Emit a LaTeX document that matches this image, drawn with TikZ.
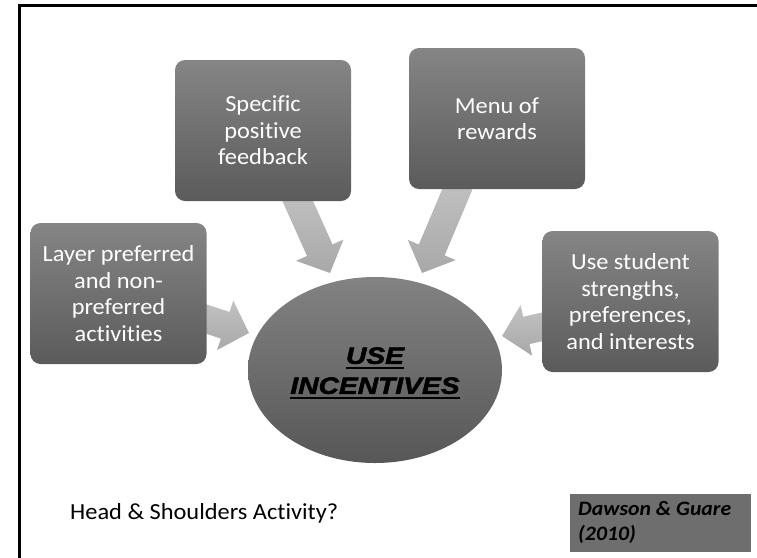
\documentclass[tikz,border=0pt]{standalone}
\usepackage{fontspec}
\setmainfont{Carlito}[FakeStretch=1.06, Ligatures=NoCommon]
\newfontfamily\titlefont{Liberation Sans}[FakeStretch=1.2, FakeBold=2.2]
\usetikzlibrary{calc,shapes.geometric}
\definecolor{boxtop}{HTML}{858585}
\definecolor{boxbot}{HTML}{5B5B5B}
\definecolor{circtop}{HTML}{828282}
\definecolor{circbot}{HTML}{575757}
\definecolor{arrtop}{HTML}{C2C2C2}
\definecolor{arrbot}{HTML}{A8A8A8}
\definecolor{refgray}{HTML}{6E6E6E}
\tikzset{
  stepbox/.style={rounded corners=10pt, minimum width=176pt, minimum height=141pt,
    top color=boxtop, bottom color=boxbot, text=white, align=center,
    font=\fontsize{23}{26.5}\selectfont, inner sep=0pt},
  hub/.style={ellipse, minimum width=254pt, minimum height=186pt,
    top color=circtop, bottom color=circbot, inner sep=0pt},
  hubtext/.style={align=center, inner sep=0pt,
    font=\titlefont\bfseries\itshape\fontsize{23.5}{30}\selectfont},
  arrowsty/.style={top color=arrtop, bottom color=arrbot},
  plain/.style={font=\fontsize{23}{27}\selectfont, inner sep=0pt}
}
\newcommand\ulword[1]{\setbox0\hbox{#1}\rlap{\vrule height -2.8pt depth 4.8pt width \wd0}\box0}
\newcommand\blockarr[2]{%
  \coordinate (ba-h) at ($(#2)!25pt!(#1)$);
  \path[arrowsty] ($(#1)!14pt!90:(#2)$) -- ($(ba-h)!14pt!90:(#2)$) --
    ($(ba-h)!26pt!90:(#2)$) -- (#2) -- ($(ba-h)!26pt!-90:(#2)$) --
    ($(ba-h)!14pt!-90:(#2)$) -- ($(#1)!14pt!-90:(#2)$) -- cycle;
}
\begin{document}
\begin{tikzpicture}[x=1pt,y=-1pt]
\useasboundingbox (0,0) rectangle (757,557);
\begin{scope}
\clip (0,0) rectangle (757,557);
\draw[line width=3pt] (19.5,570) -- (19.5,5.5) -- (770,5.5);
\end{scope}

% arrows (drawn first, below the boxes)
\coordinate (a1s) at (295,195); \coordinate (a1t) at (330,273);
\coordinate (a2s) at (460,183); \coordinate (a2t) at (422,273);
\coordinate (a3s) at (200,317); \coordinate (a3t) at (249,333);
\coordinate (a4s) at (550,325); \coordinate (a4t) at (502,336);
\blockarr{a1s}{a1t}
\blockarr{a2s}{a2t}
\blockarr{a3s}{a3t}
\blockarr{a4s}{a4t}

\node[stepbox] (spec) at (263,130.5) {Specific\\positive\\feedback};
\node[stepbox] (menu) at (497,118.5) {Menu of\\rewards};
\node[stepbox] (layer) at (118.5,293.5) {Layer preferred\\and non-\\preferred\\activities};
\node[stepbox] (stud) at (630.5,301.5) {Use student\\strengths,\\preferences,\\and interests};

\node[hub] (hubnode) at (375,370) {};
\node[hubtext] (hublabel) at (375,373) {\ulword{USE}\\\ulword{INCENTIVES}};

\node[plain, anchor=base west] (head) at (70,519) {Head \& Shoulders Activity?};

\fill[refgray] (570,494) rectangle (751,552);
\node[anchor=north west, inner sep=0pt, align=left,
  font=\bfseries\itshape\fontsize{20.5}{25}\selectfont] (cite) at (578,501)
  {Dawson \& Guare\\(2010)};
\end{tikzpicture}
\end{document}
